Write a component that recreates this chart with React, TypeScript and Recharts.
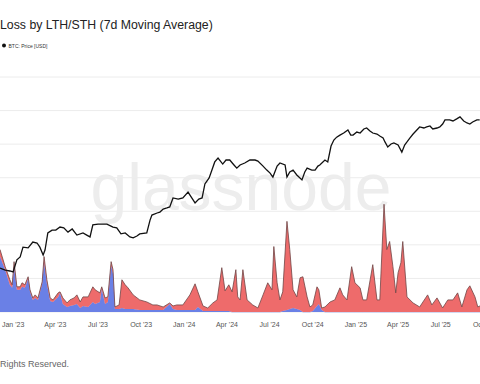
import { Area, CartesianGrid, ComposedChart, Line, XAxis, YAxis } from 'recharts'

// x values are days since 2022-12-04
const lossDays = [
  0, 11, 21, 26, 30, 36, 43, 47, 53, 60, 64, 70, 75, 81, 90, 94, 100, 107, 113, 124,
  128, 134, 143, 149, 158, 164, 171, 177, 188, 198, 203, 213, 217, 224, 230, 237, 241, 245, 254, 260,
  267, 273, 284, 298, 313, 326, 335, 348, 362, 369, 377, 390, 405, 416, 422, 433, 443, 454, 463, 473,
  480, 488, 495, 503, 507, 512, 518, 527, 539, 550, 561, 571, 580, 584, 591, 597, 603, 612, 618, 625,
  633, 640, 646, 655, 661, 667, 676, 680, 686, 693, 704, 714, 725, 731, 740, 750, 757, 768, 774, 782,
  795, 804, 810, 819, 825, 831, 838, 844, 849, 855, 859, 868, 881, 895, 912, 921, 932, 944, 955, 966,
  976, 985, 996, 1002, 1013, 1019, 1028,
]
// realized loss, $M (7d MA)
const lthLoss = [
  165, 126, 81, 72, 135, 66, 66, 75, 72, 99, 60, 36, 42, 36, 84, 147, 84, 33, 30, 45,
  57, 24, 15, 18, 21, 24, 12, 18, 15, 30, 24, 30, 69, 24, 30, 138, 114, 9, 9, 12,
  9, 9, 9, 6, 6, 6, 6, 6, 24, 9, 6, 6, 6, 6, 15, 3, 3, 3, 3, 3,
  3, 3, 0, 0, 0, 0, 0, 0, 0, 0, 0, 0, 0, 0, 0, 0, 3, 6, 9, 12,
  9, 6, 0, 0, 0, 3, 18, 24, 6, 0, 0, 0, 0, 0, 0, 0, 0, 0, 0, 0,
  0, 0, 0, 0, 0, 0, 0, 0, 0, 0, 0, 0, 0, 0, 0, 0, 0, 0, 0, 0,
  0, 0, 0, 0, 0, 0, 0,
]
const sthLoss = [
  21, 9, 15, 9, 15, 9, 9, 12, 9, 6, 6, 6, 9, 6, 6, 18, 12, 9, 6, 12,
  3, 18, 12, 18, 21, 27, 18, 27, 30, 45, 42, 27, 6, 18, 15, 12, 12, 6, 12, 84,
  72, 63, 42, 30, 24, 15, 15, 9, 3, 9, 15, 15, 45, 78, 45, 15, 9, 24, 33, 129,
  60, 78, 60, 126, 45, 36, 126, 36, 21, 12, 51, 87, 66, 195, 87, 36, 57, 264, 177, 54,
  36, 96, 105, 45, 15, 18, 57, 42, 6, 15, 30, 36, 72, 51, 36, 135, 87, 72, 36, 36,
  141, 36, 36, 321, 186, 210, 135, 57, 117, 147, 210, 45, 27, 15, 51, 21, 42, 12, 36, 36,
  57, 15, 66, 78, 45, 15, 21,
]

const priceDays = [
  0, 11, 21, 28, 36, 43, 49, 60, 70, 79, 85, 92, 96, 102, 111, 119, 128, 136, 145, 154,
  164, 177, 185, 192, 198, 209, 220, 228, 241, 249, 258, 267, 277, 284, 292, 298, 313, 320, 324, 335,
  341, 348, 356, 362, 369, 380, 390, 401, 409, 416, 424, 431, 437, 446, 452, 458, 465, 475, 482, 490,
  499, 505, 512, 522, 533, 544, 550, 561, 569, 576, 582, 591, 597, 608, 612, 618, 625, 633, 644, 650,
  655, 665, 672, 678, 682, 693, 699, 706, 712, 718, 725, 733, 742, 748, 753, 761, 768, 776, 782, 789,
  795, 804, 810, 817, 821, 827, 834, 840, 849, 857, 863, 868, 874, 881, 889, 895, 904, 910, 917, 923,
  932, 938, 944, 949, 959, 966, 974, 981, 989, 996, 1002, 1008, 1017, 1023,
]
const btcPrice = [
  16300, 15900, 15700, 15500, 18200, 18900, 21500, 21300, 23000, 22700, 21500, 19400, 20700, 25900, 26900, 26900, 28000, 27700, 26200, 27300,
  25200, 25900, 25200, 24600, 28800, 29100, 29100, 29100, 28000, 27700, 25600, 25900, 24600, 24300, 24900, 25600, 25900, 30700, 32800, 33700,
  34100, 35500, 36000, 36500, 41100, 40500, 41100, 44400, 41100, 38500, 40500, 41100, 49400, 53500, 59300, 66000, 69500, 64200, 67700, 67700,
  63400, 60800, 63400, 65100, 67700, 67700, 66800, 62500, 59300, 57000, 54100, 62500, 65100, 63400, 54100, 57800, 59300, 55600, 52100, 57800,
  60800, 59300, 59300, 62500, 63400, 67700, 66000, 81400, 88100, 91500, 94000, 96600, 100500, 94000, 94000, 97900, 96600, 101900, 103200, 99200,
  96600, 95300, 92800, 90400, 85900, 80300, 83600, 84700, 82500, 75100, 82500, 85900, 90400, 95300, 100500, 104600, 103200, 104600, 106000, 101900,
  103200, 104600, 108800, 114800, 114800, 113200, 116300, 119400, 113200, 110300, 108800, 111700, 114800, 114800,
]

const tickDays = [28, 118, 209, 301, 393, 484, 575, 667, 759, 849, 940, 1032]
const tickLabels = ["Jan '23", "Apr '23", "Jul '23", "Oct '23", "Jan '24", "Apr '24", "Jul '24", "Oct '24", "Jan '25", "Apr '25", "Jul '25", "Oct '25"]
const lossTicks = [0, 100, 200, 300, 400, 500, 600, 700]

const lossData = lossDays.map((day, i) => ({ day, lth: lthLoss[i], sth: sthLoss[i] }))
const priceData = priceDays.map((day, i) => ({ day, price: btcPrice[i] }))

const FONT = '"Liberation Sans", Arial, Helvetica, sans-serif'

export default function App() {
  return (
    <div
      style={{
        position: 'absolute',
        left: 0,
        top: 0,
        width: 480,
        height: 384,
        overflow: 'hidden',
        background: '#fff',
        fontFamily: FONT,
      }}
    >
      <svg width={480} height={384} style={{ position: 'absolute', left: 0, top: 0 }}>
        <text x={241} y={210} textAnchor="middle" fontSize={66} fill="#ededed" fontFamily={FONT}>
          glassnode
        </text>
      </svg>
      <div style={{ position: 'absolute', left: 0, top: 0 }}>
        <ComposedChart
          width={520}
          height={384}
          data={lossData}
          margin={{ top: 77, right: 0, bottom: 52, left: 0 }}
        >
          <CartesianGrid vertical={false} stroke="#ececec" yAxisId="loss" />
          <XAxis
            dataKey="day"
            type="number"
            domain={[0, 1109]}
            ticks={tickDays}
            interval={0}
            allowDataOverflow
            height={20}
            axisLine={false}
            tickLine={false}
            tickMargin={4}
            tick={{ fontSize: 7, fill: '#555', fontFamily: FONT }}
            tickFormatter={(d: number) => tickLabels[tickDays.indexOf(d)] ?? ''}
          />
          <YAxis yAxisId="loss" hide domain={[0, 700]} ticks={lossTicks} />
          <YAxis
            yAxisId="price"
            orientation="right"
            hide
            scale="log"
            domain={[9150, 202000]}
            allowDataOverflow
          />
          <Area
            yAxisId="loss"
            type="linear"
            dataKey="lth"
            stackId="loss"
            fill="#6a80e6"
            fillOpacity={1}
            stroke="#6a80e6"
            strokeWidth={0.5}
            isAnimationActive={false}
            dot={false}
            activeDot={false}
          />
          <Area
            yAxisId="loss"
            type="linear"
            dataKey="sth"
            stackId="loss"
            fill="#ee6b6b"
            fillOpacity={1}
            stroke="#704545"
            strokeWidth={0.8}
            isAnimationActive={false}
            dot={false}
            activeDot={false}
          />
          <Line
            yAxisId="price"
            data={priceData}
            type="linear"
            dataKey="price"
            stroke="#111"
            strokeWidth={1.3}
            dot={false}
            activeDot={false}
            isAnimationActive={false}
          />
        </ComposedChart>
      </div>
      <svg width={480} height={384} style={{ position: 'absolute', left: 0, top: 0, pointerEvents: 'none' }}>
        <text x={0} y={28.5} fontSize={12.3} fill="#222" fontFamily={FONT}>
          Loss by LTH/STH (7d Moving Average)
        </text>
        <circle cx={4} cy={45.5} r={2} fill="#111" />
        <text x={8.5} y={47.5} fontSize={5} fill="#333" fontFamily={FONT}>
          BTC: Price [USD]
        </text>
        <text x={0} y={367} fontSize={9} fill="#666" fontFamily={FONT}>
          Rights Reserved.
        </text>
      </svg>
    </div>
  )
}
